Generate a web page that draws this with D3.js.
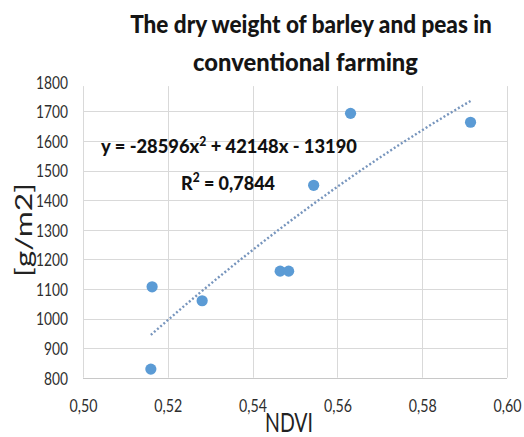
<!DOCTYPE html>
<html>
<head>
<meta charset="utf-8">
<script src="https://cdn.jsdelivr.net/npm/d3@7"></script>
<style>
  html, body { margin: 0; padding: 0; background: #fff; }
  svg { display: block; }
  text { font-family: Lato, "Open Sans", "DejaVu Sans", sans-serif; }
</style>
</head>
<body>
<svg id="chart" width="524" height="437"></svg>
<script>
// Measured samples: NDVI against dry weight (g/m2)
const ndvi   = [0.5163, 0.5160, 0.5281, 0.5465, 0.5485, 0.5544, 0.5631, 0.5914];
const weight = [1107,   829,    1060,   1160,   1160,   1450,   1693,   1663];

// Axis ticks
const xTicks = [0.50, 0.52, 0.54, 0.56, 0.58, 0.60];
const yTicks = [800, 900, 1000, 1100, 1200, 1300, 1400, 1500, 1600, 1700, 1800];

// Second-order polynomial trend line coefficients (a x^2 + b x + c) and fit quality
const trendCoef = [-28596, 42148, -13190];
const rSquared = "0,7844";

const titleLines = ["The dry weight of barley and peas in", "conventional farming"];
const xTitle = "NDVI";
const yTitle = "[g/m2]";

const svg = d3.select("#chart");

const x = d3.scaleLinear().domain([0.50, 0.60]).range([83, 507]);
const y = d3.scaleLinear().domain([800, 1800]).range([377.7, 81.7]);

const comma = v => d3.format(".2f")(v).replace(".", ",");

// Horizontally squeeze a text element about its anchor so it spans `w` pixels
function fit(node, w) {
  const bb = node.getBBox();
  const s = w / bb.width;
  const sel = d3.select(node);
  const anchor = sel.attr("text-anchor") || sel.style("text-anchor");
  let cx = bb.x;
  if (anchor === "middle") cx = bb.x + bb.width / 2;
  else if (anchor === "end") cx = bb.x + bb.width;
  const prev = sel.attr("transform") || "";
  sel.attr("transform", `${prev} translate(${cx},0) scale(${s},1) translate(${-cx},0)`);
}

// Gridlines
const grid = svg.append("g").attr("stroke", "#d9d9d9").attr("stroke-width", 1);
grid.selectAll("line.h")
  .data(yTicks.filter(v => v > 800 && v < 1800))
  .join("line")
  .attr("x1", x(0.50)).attr("x2", x(0.60))
  .attr("y1", d => Math.round(y(d)) + 0.5).attr("y2", d => Math.round(y(d)) + 0.5);
grid.selectAll("line.v")
  .data(xTicks)
  .join("line")
  .attr("x1", d => Math.round(x(d)) + 0.5).attr("x2", d => Math.round(x(d)) + 0.5)
  .attr("y1", y(1785)).attr("y2", y(800));
// Bottom axis line
svg.append("line")
  .attr("x1", x(0.50)).attr("x2", x(0.60))
  .attr("y1", Math.round(y(800)) + 0.5).attr("y2", Math.round(y(800)) + 0.5)
  .attr("stroke", "#c8c8c8");

// Y axis labels
const yAxis = svg.append("g")
  .attr("transform", `translate(${x(0.50)},0)`)
  .call(d3.axisLeft(y).tickValues(yTicks).tickSize(0).tickPadding(15).tickFormat(d3.format("d")));
yAxis.select(".domain").remove();
yAxis.selectAll("text")
  .attr("font-size", 17.5).attr("fill", "#2e2e2e").attr("dy", "0.36em")
  .style("font-family", "Lato, 'Open Sans', sans-serif")
  .each(function(d) { fit(this, String(d).length * 8); });

// X axis labels
const xAxis = svg.append("g")
  .attr("transform", `translate(0,${y(800)})`)
  .call(d3.axisBottom(x).tickValues(xTicks).tickSize(0).tickFormat(comma));
xAxis.select(".domain").remove();
xAxis.selectAll("text")
  .attr("y", 34).attr("dy", null)
  .attr("font-size", 17.5).attr("fill", "#2e2e2e")
  .style("font-family", "Lato, 'Open Sans', sans-serif")
  .each(function() { fit(this, 28); });

// Polynomial trend line over the observed NDVI span
const poly = v => trendCoef[0] * v * v + trendCoef[1] * v + trendCoef[2];
const [xmin, xmax] = d3.extent(ndvi);
const trendPts = d3.range(0, 61).map(i => {
  const v = xmin + (xmax - xmin) * i / 60;
  return [v, poly(v)];
});
svg.append("path")
  .datum(trendPts)
  .attr("fill", "none")
  .attr("stroke", "#7795bd")
  .attr("stroke-width", 2.4)
  .attr("stroke-dasharray", "2 2.2")
  .attr("d", d3.line().x(d => x(d[0])).y(d => y(d[1])));

// Data points
svg.append("g")
  .selectAll("circle")
  .data(ndvi.map((v, i) => [v, weight[i]]))
  .join("circle")
  .attr("cx", d => x(d[0]))
  .attr("cy", d => y(d[1]))
  .attr("r", 5.6)
  .attr("fill", "#5b9bd5");

// Trend equation and R²
const fmtCoef = n => Math.abs(n).toString();
const eq = svg.append("text")
  .attr("x", 229).attr("y", 153.5)
  .attr("text-anchor", "middle")
  .attr("font-size", 19.5).attr("font-weight", 900).attr("fill", "#111");
eq.append("tspan").text(`y = ${trendCoef[0]}x`);
eq.append("tspan").attr("dy", -7.5).attr("font-size", 13).text("2");
eq.append("tspan").attr("dy", 7.5).text(` + ${fmtCoef(trendCoef[1])}x - ${fmtCoef(trendCoef[2])}`);
fit(eq.node(), 256);

const r2 = svg.append("text")
  .attr("x", 228).attr("y", 190)
  .attr("text-anchor", "middle")
  .attr("font-size", 19.5).attr("font-weight", 900).attr("fill", "#111");
r2.append("tspan").text("R");
r2.append("tspan").attr("dy", -7.5).attr("font-size", 13).text("2");
r2.append("tspan").attr("dy", 7.5).text(` = ${rSquared}`);
fit(r2.node(), 94);

// Title
const titleSpec = [
  { cx: 311, base: 33.3, w: 362 },
  { cx: 305.5, base: 71, w: 225 }
];
titleLines.forEach((t, i) => {
  const el = svg.append("text")
    .attr("x", titleSpec[i].cx).attr("y", titleSpec[i].base)
    .attr("text-anchor", "middle")
    .attr("font-size", 24.5).attr("font-weight", 900).attr("fill", "#151515")
    .text(t);
  fit(el.node(), titleSpec[i].w);
});

// Axis titles
const xt = svg.append("text")
  .attr("x", 289).attr("y", 432)
  .attr("text-anchor", "middle")
  .attr("font-size", 26).attr("fill", "#222")
  .text(xTitle);
fit(xt.node(), 48);

const ytg = svg.append("g").attr("transform", "translate(32,230) rotate(-90)");
const yt = ytg.append("text")
  .attr("x", 0).attr("y", 0)
  .attr("text-anchor", "middle")
  .attr("font-size", 24).attr("fill", "#222")
  .text(yTitle);
fit(yt.node(), 94);
</script>
</body>
</html>
